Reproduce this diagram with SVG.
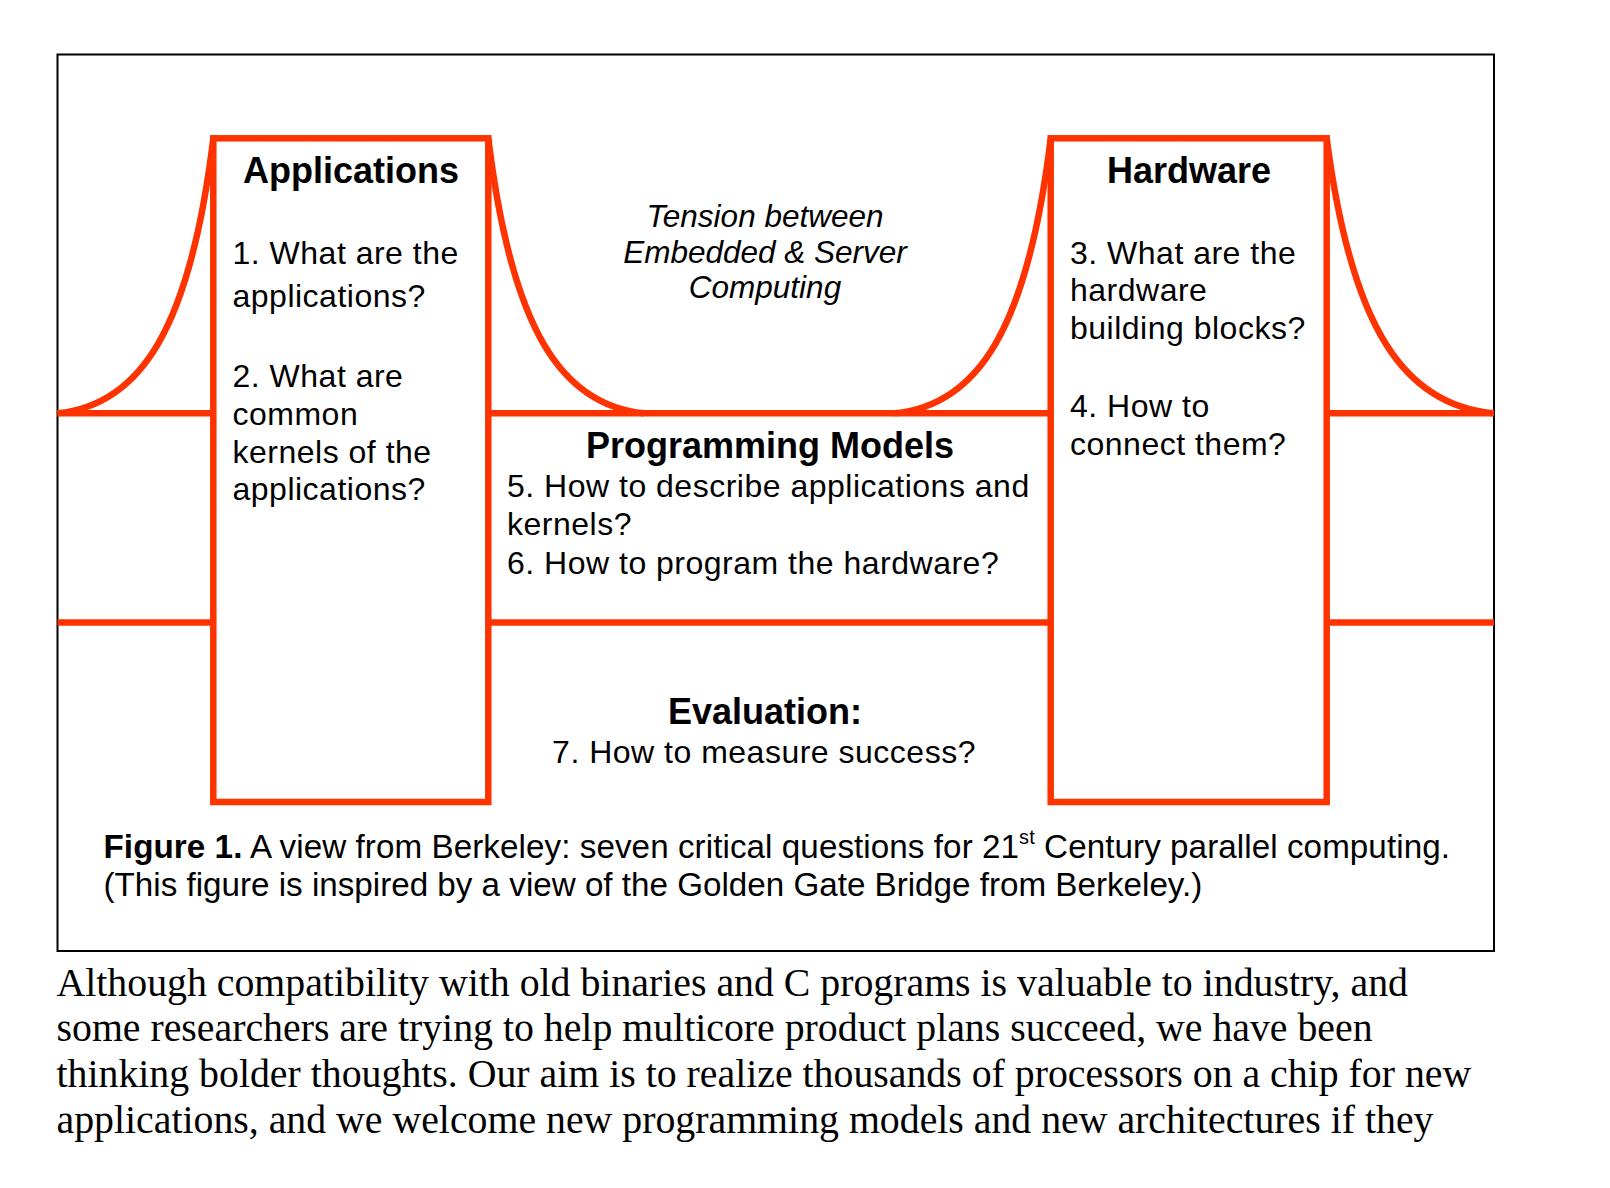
<svg xmlns="http://www.w3.org/2000/svg" width="1610" height="1188" viewBox="0 0 1610 1188">
<style>
.red{fill:none;stroke:#FF3300;stroke-width:6.5;stroke-linejoin:miter;stroke-linecap:butt}
.frame{fill:none;stroke:#000;stroke-width:2}
.t{font-family:"Liberation Sans",Arial,sans-serif;font-size:32px;fill:#000;letter-spacing:0.5px}
.h{font-family:"Liberation Sans",Arial,sans-serif;font-size:36px;font-weight:bold;fill:#000;text-anchor:middle}
.it{font-family:"Liberation Sans",Arial,sans-serif;font-size:31.5px;font-style:italic;fill:#000;text-anchor:middle}
.cap{font-family:"Liberation Sans",Arial,sans-serif;font-size:33.2px;fill:#000}
.body{font-family:"Liberation Serif","Times New Roman",serif;font-size:39.8px;fill:#000}
</style>
<rect x="0" y="0" width="1610" height="1188" fill="#fff"/>
<rect id="frame" class="frame" x="57.5" y="54.5" width="1436.5" height="896.5"/>
<g id="connectors">
<path class="red" d="M57.5,413.3 C140,405 190,330 213.3,138.3"/>
<path class="red" d="M488.3,138.3 C511.6,330 561.6,405 644.1,413.3"/>
<path class="red" d="M894.9,413.3 C977.4,405 1027.4,330 1050.7,138.3"/>
<path class="red" d="M1326.7,138.3 C1351.7,330 1405,405 1493,413.3"/>
<path class="red" d="M57.5,413.3 H213.3 M488.3,413.3 H1050.7 M1326.7,413.3 H1494"/>
<path class="red" d="M57.5,622.5 H213.3 M488.3,622.5 H1050.7 M1326.7,622.5 H1494"/>
</g>
<g id="applications">
<rect class="red" x="213.3" y="138.3" width="275" height="663.7"/>
<text class="h" x="351" y="182.7">Applications</text>
<text class="t" x="232.5" y="264">1. What are the</text>
<text class="t" x="232.5" y="306.5">applications?</text>
<text class="t" x="232.5" y="386.7">2. What are</text>
<text class="t" x="232.5" y="425">common</text>
<text class="t" x="232.5" y="462.7">kernels of the</text>
<text class="t" x="232.5" y="500">applications?</text>
</g>
<g id="hardware">
<rect class="red" x="1050.7" y="138.3" width="276" height="663.7"/>
<text class="h" x="1189" y="182.7">Hardware</text>
<text class="t" x="1070" y="264">3. What are the</text>
<text class="t" x="1070" y="301">hardware</text>
<text class="t" x="1070" y="339.3">building blocks?</text>
<text class="t" x="1070" y="416.7">4. How to</text>
<text class="t" x="1070" y="455">connect them?</text>
</g>
<g id="tension">
<text class="it" x="765" y="227">Tension between</text>
<text class="it" x="765" y="262.5">Embedded &amp; Server</text>
<text class="it" x="765" y="298">Computing</text>
</g>
<g id="programming-models">
<text class="h" x="770" y="457.5">Programming Models</text>
<text class="t" x="507" y="497">5. How to describe applications and</text>
<text class="t" x="507" y="535">kernels?</text>
<text class="t" x="507" y="573.5">6. How to program the hardware?</text>
</g>
<g id="evaluation">
<text class="h" x="765" y="724.3">Evaluation:</text>
<text class="t" x="764" y="762.7" text-anchor="middle">7. How to measure success?</text>
</g>
<g id="caption">
<text class="cap" x="103.5" y="857.5" letter-spacing="0.07"><tspan font-weight="bold">Figure 1.</tspan> A view from Berkeley: seven critical questions for 21<tspan font-size="20" dy="-14">st</tspan><tspan dy="14"> Century parallel computing.</tspan></text>
<text class="cap" x="103.5" y="895.5">(This figure is inspired by a view of the Golden Gate Bridge from Berkeley.)</text>
</g>
<g id="body-text">
<text class="body" x="56.5" y="995.5">Although compatibility with old binaries and C programs is valuable to industry, and</text>
<text class="body" x="56.5" y="1040.5">some researchers are trying to help multicore product plans succeed, we have been</text>
<text class="body" x="56.5" y="1086.5">thinking bolder thoughts. Our aim is to realize thousands of processors on a chip for new</text>
<text class="body" x="56.5" y="1132.5">applications, and we welcome new programming models and new architectures if they</text>
</g>
</svg>
